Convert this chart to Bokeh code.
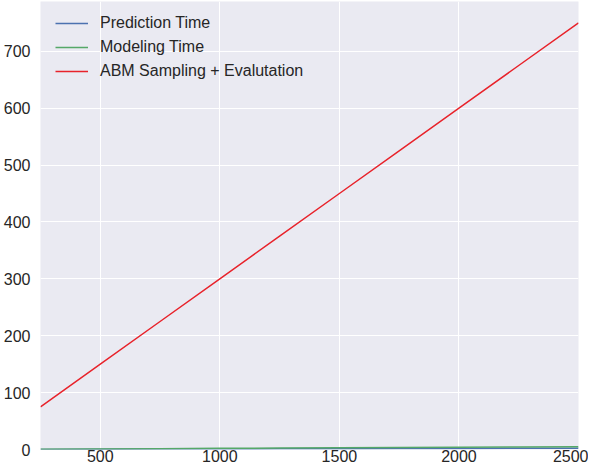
from bokeh.plotting import figure
from bokeh.models import Range1d, FixedTicker, Legend, LegendItem
from bokeh.embed import file_html
from bokeh.resources import INLINE

n_samples = [250, 500, 750, 1000, 1250, 1500, 1750, 2000, 2250, 2500]
prediction_time = [0.2, 0.4, 0.7, 0.9, 1.2, 1.4, 1.7, 1.9, 2.2, 2.4]
modeling_time = [0.5, 1.0, 1.5, 2.0, 2.5, 3.0, 3.5, 4.0, 4.5, 5.0]
abm_time = [75, 150, 225, 300, 375, 450, 525, 600, 675, 750]

x_ticks = [500, 1000, 1500, 2000, 2500]
y_ticks = [0, 100, 200, 300, 400, 500, 600, 700]

p = figure(width=588, height=464, output_backend="svg", toolbar_location=None,
           x_range=Range1d(250, 2500), y_range=Range1d(0, 787.5),
           min_border_left=0, min_border_right=10, min_border_top=1, min_border_bottom=0)
p.background_fill_color = "#EAEAF2"
p.border_fill_color = "white"
p.outline_line_color = None

for ax in (p.xaxis[0], p.yaxis[0]):
    ax.axis_line_color = None
    ax.major_tick_line_color = None
    ax.minor_tick_line_color = None
    ax.major_label_text_font = "Liberation Sans"
    ax.major_label_text_font_size = "16px"
    ax.major_label_text_color = "#262626"
p.xaxis[0].ticker = FixedTicker(ticks=x_ticks)
p.yaxis[0].ticker = FixedTicker(ticks=y_ticks)
p.xaxis[0].major_tick_out = 0
p.xaxis[0].major_label_standoff = 0
p.yaxis[0].major_label_standoff = 4

p.xgrid.grid_line_color = "white"
p.ygrid.grid_line_color = "white"
p.xgrid.grid_line_width = 1
p.ygrid.grid_line_width = 1

r1 = p.line(n_samples, prediction_time, line_color="#4C72B0", line_width=1.5)
r2 = p.line(n_samples, modeling_time, line_color="#55A868", line_width=1.5)
r3 = p.line(n_samples, abm_time, line_color="#E8232B", line_width=1.5)

legend = Legend(items=[
    LegendItem(label="Prediction Time", renderers=[r1]),
    LegendItem(label="Modeling Time", renderers=[r2]),
    LegendItem(label="ABM Sampling + Evalutation", renderers=[r3]),
], location=(15, 366))
legend.background_fill_alpha = 0
legend.border_line_color = None
legend.label_text_font = "Liberation Sans"
legend.label_text_font_size = "16px"
legend.label_text_color = "#262626"
legend.glyph_width = 33
legend.glyph_height = 24
legend.label_height = 24
legend.spacing = 0
legend.padding = 0
legend.margin = 0
legend.label_standoff = 12
p.add_layout(legend)

open("out.html", "w").write(file_html(p, INLINE))
